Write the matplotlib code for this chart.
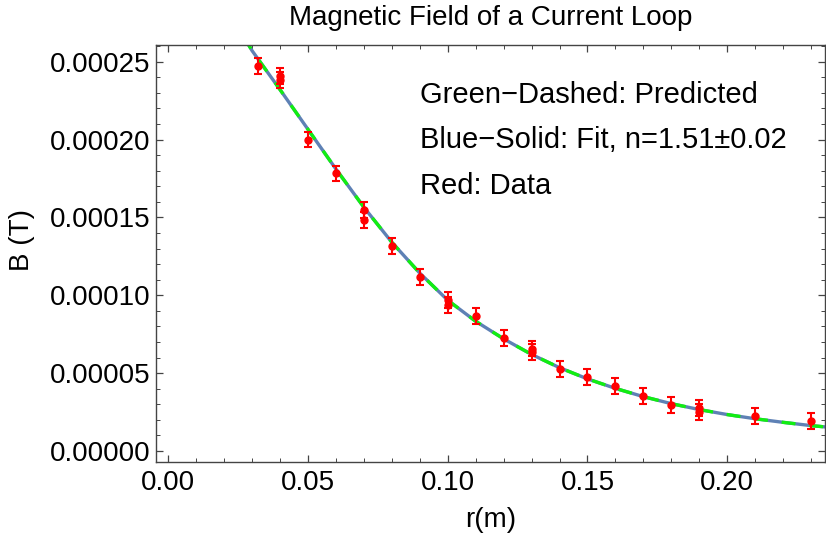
import matplotlib
matplotlib.use("Agg")
import matplotlib.pyplot as plt
from matplotlib.ticker import MultipleLocator, FormatStrFormatter

plt.rcParams['font.family'] = ['Liberation Sans', 'DejaVu Sans']
plt.rcParams['lines.scale_dashes'] = False

# measured data (r in m, B in T)
r_data = [0.032, 0.04, 0.04, 0.05, 0.06, 0.07, 0.07, 0.08, 0.09, 0.10, 0.10,
          0.11, 0.12, 0.13, 0.13, 0.14, 0.15, 0.16, 0.17, 0.18, 0.19, 0.19,
          0.21, 0.23]
b_data = [24.72e-5, 24.08e-5, 23.82e-5, 20.0e-5, 17.83e-5, 15.47e-5, 14.83e-5,
          13.17e-5, 11.18e-5, 9.68e-5, 9.36e-5,
          8.65e-5, 7.26e-5, 6.58e-5, 6.36e-5, 5.25e-5, 4.74e-5, 4.16e-5,
          3.53e-5, 2.94e-5, 2.76e-5, 2.51e-5,
          2.23e-5, 1.91e-5]
b_err = [0.5e-5] * len(b_data)

# curves
r_curve = [0.027, 0.03, 0.04, 0.05, 0.06, 0.07, 0.08, 0.09, 0.10, 0.11, 0.12,
           0.13, 0.14, 0.15, 0.16, 0.17, 0.18, 0.19, 0.20, 0.21, 0.22, 0.23, 0.236]
b_fit = [26.6e-5, 25.7e-5, 23.2e-5, 20.65e-5, 18.1e-5, 15.65e-5, 13.4e-5,
         11.42e-5, 9.68e-5, 8.33e-5, 7.2e-5, 6.2e-5, 5.35e-5, 4.63e-5,
         4.02e-5, 3.49e-5, 3.04e-5, 2.66e-5, 2.34e-5, 2.07e-5, 1.84e-5,
         1.63e-5, 1.53e-5]
b_pred = list(b_fit)

fig = plt.figure(figsize=(8.26, 5.4), dpi=100)
ax = fig.add_axes([156 / 826, (540 - 462) / 540, (825 - 156) / 826, (462 - 45) / 540])

ax.plot(r_curve, b_fit, color='#5E81B5', lw=2.4, solid_capstyle='butt')
ax.plot(r_curve, b_pred, color='#11EE11', lw=2.4, dashes=(10, 10))
ax.errorbar(r_data, b_data, yerr=b_err, fmt='o', color='red', ms=5,
            elinewidth=1.5, capsize=3, capthick=1.5, zorder=5)

ax.set_xlim(-0.0044, 0.235)
ax.set_ylim(-0.707e-5, 26.07e-5)

ax.xaxis.set_major_locator(MultipleLocator(0.05))
ax.xaxis.set_minor_locator(MultipleLocator(0.01))
ax.yaxis.set_major_locator(MultipleLocator(0.00005))
ax.yaxis.set_minor_locator(MultipleLocator(0.00001))
ax.xaxis.set_major_formatter(FormatStrFormatter('%.2f'))
ax.yaxis.set_major_formatter(FormatStrFormatter('%.5f'))
ax.tick_params(which='both', direction='in', top=True, right=True,
               color='#444444', labelsize=20, labelcolor='black')
ax.tick_params(which='major', length=5, width=0.9, pad=6)
ax.tick_params(axis='y', which='major', pad=4)
ax.tick_params(which='minor', length=2.8, width=0.7)
for s in ax.spines.values():
    s.set_color('#444444')
    s.set_linewidth(1.0)

ax.set_xlabel('r(m)', fontsize=20, va='center')
ax.set_ylabel('B (T)', fontsize=20, va='center', ha='center')
ax.xaxis.set_label_coords(0.5, -0.139)
ax.yaxis.set_label_coords(-0.2, 0.532)
ax.set_title('Magnetic Field of a Current Loop', fontsize=20, y=1.065,
             va='center', pad=0)

tx = (420 - 156) / 669
ax.text(tx, 0.880, 'Green\u2212Dashed: Predicted', transform=ax.transAxes,
        fontsize=21, va='center', ha='left')
ax.text(tx, 0.772, 'Blue\u2212Solid: Fit, n=1.51\u00b10.02', transform=ax.transAxes,
        fontsize=21, va='center', ha='left')
ax.text(tx, 0.662, 'Red: Data', transform=ax.transAxes,
        fontsize=21, va='center', ha='left')

fig.savefig('out.png', dpi=100)
